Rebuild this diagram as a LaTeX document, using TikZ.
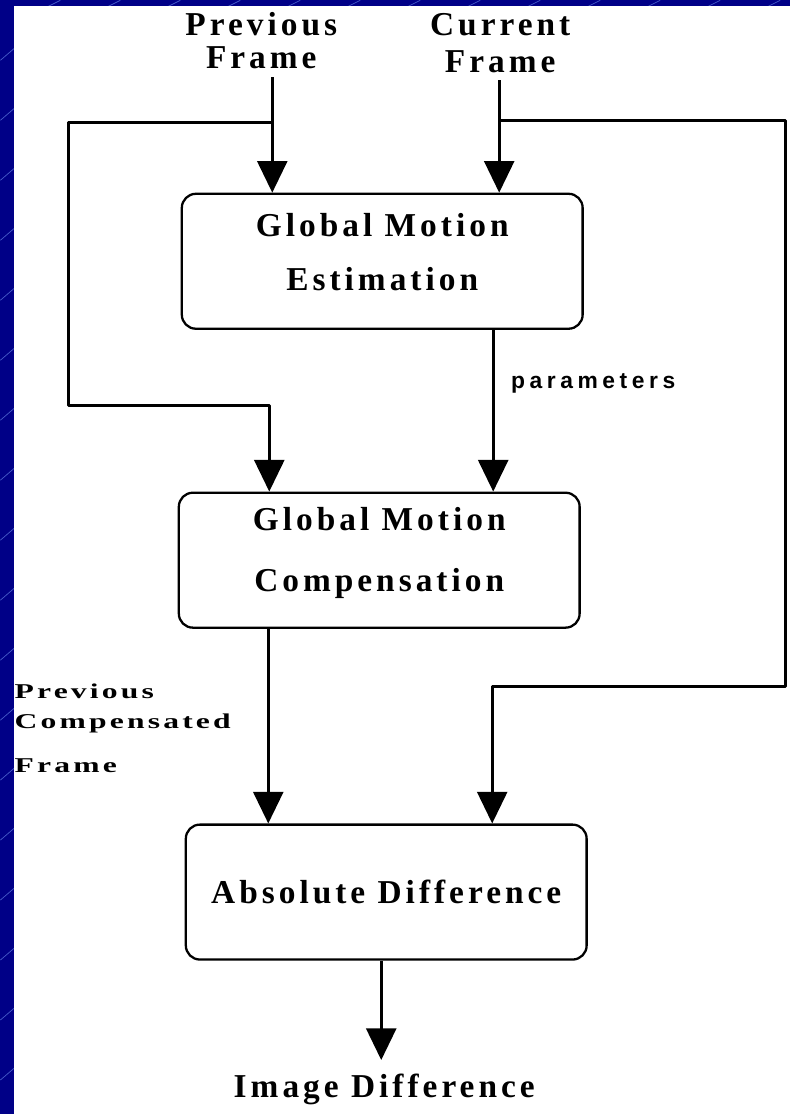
\documentclass[tikz,border=0pt]{standalone}
\usepackage{graphicx}
\usepackage{fontspec}
\setmainfont{Liberation Serif}
\newfontfamily\blkfont{Liberation Serif}[LetterSpace=12]
\newfontfamily\sidefont{Liberation Serif}[LetterSpace=10]
\newfontfamily\parfont{Liberation Sans}[LetterSpace=20]
\usetikzlibrary{arrows.meta,calc,positioning}
\definecolor{slide}{RGB}{0,0,135}
\definecolor{streak}{RGB}{70,90,200}

\begin{document}
\begin{tikzpicture}[x=0.02cm,y=-0.02cm,line join=round,
  blk/.style={draw,line width=1.3pt,rounded corners=8pt,minimum width=8.02cm,minimum height=2.7cm,inner sep=0pt},
  blktxt/.style={align=center,inner sep=0pt,font=\blkfont\bfseries\fontsize{19}{31}\selectfont},
  toptxt/.style={align=center,inner sep=0pt,font=\blkfont\bfseries\fontsize{19}{19}\selectfont},
  wire/.style={line width=1.7pt},
  arr/.style={wire,-{Triangle[width=17pt,length=18pt]}}]
% slide background
\fill[slide] (0,0) rectangle (790,1114);
\foreach \i in {60,120,...,780}{\draw[streak,line width=0.4pt] (\i-12,6) -- (\i,0);}
\foreach \i in {60,120,...,1100}{\draw[streak,line width=0.4pt] (0,\i) -- (14,\i-12);}
\fill[white] (14,6) rectangle (790,1114);
% blocks
\node[blk] (gme) at (382,261) {};
\node[blk] (gmc) at (379,560) {};
\node[blk] (ad) at (386,892) {};
\node[blktxt] (gmet) at ($(gme)+(0,-9)$) {Global Motion\\Estimation};
\node[blktxt] (gmct) at ($(gmc)+(0,-7)$) {Global Motion\\[4pt]Compensation};
\node[blktxt] (adt) at (ad) {Absolute Difference};
% labels
\node[toptxt] (prev) at (261,40) {Previous\\Frame};
\node[toptxt] (cur) at (500,43) {Current\\[2pt]Frame};
\node[inner sep=0pt,font=\parfont\bfseries\fontsize{13}{15}\selectfont] (par) at (593,383) {parameters};
\node[anchor=north west,inner sep=0pt,font=\sidefont\bfseries\fontsize{12}{17}\selectfont] (pcf) at (14,677)
  {\scalebox{1.5}[1]{\begin{tabular}{@{}l@{}}Previous\\Compensated\\[8pt]Frame\end{tabular}}};
\node[toptxt] (imd) at (384,1089) {Image Difference};
% connectors
\coordinate (p0) at (272,77);
\coordinate (p1) at (272,122);
\coordinate (pl) at (269,405);
\coordinate (c0) at (499,80);
\coordinate (c1) at (499,120);
\coordinate (cr) at (492,686);
\coordinate (pm) at (493,400);
\coordinate (cm) at (268,700);
\coordinate (out) at (381,1060);
\draw[arr] (p0) -- (p0 |- gme.north);
\draw[arr] (c0) -- (c0 |- gme.north);
\draw[arr] (p1) -- (68,122) -- (68,405) -- (pl) -- (pl |- gmc.north);
\draw[arr] (c1) -- (785,120) -- (785,686) -- (cr) -- (cr |- ad.north);
\draw[arr] (pm |- gme.south) -- (pm |- gmc.north);
\draw[arr] (cm |- gmc.south) -- (cm |- ad.north);
\draw[arr] (out |- ad.south) -- (out);
\end{tikzpicture}
\end{document}
